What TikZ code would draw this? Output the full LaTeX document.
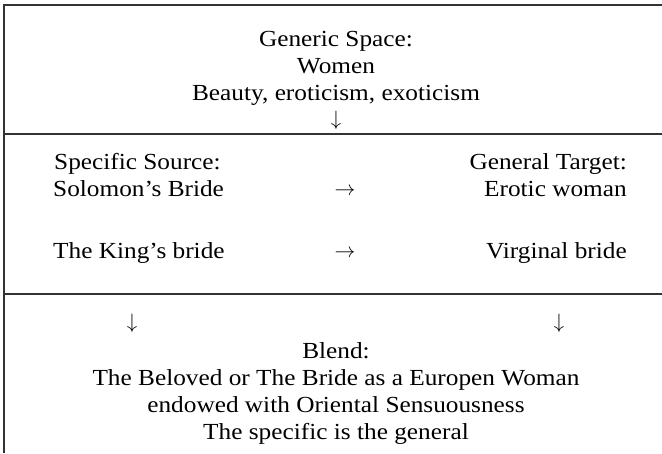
\documentclass[tikz,border=0pt]{standalone}
\usepackage{fontspec}
\setmainfont[FakeStretch=1.1]{Liberation Serif}
\begin{document}
\begin{tikzpicture}[x=1pt,y=-1pt,
  rule/.style={draw=black!80,line width=1.4pt},
  txt/.style={font=\fontsize{23}{27}\selectfont,inner sep=0pt,anchor=base},
  arr/.style={font=\fontsize{20}{24}\selectfont,inner sep=0pt,anchor=base},
  lft/.style={txt,anchor=base west},
  rgt/.style={txt,anchor=base east}]
\useasboundingbox (0,0) rectangle (662,453);
% frame lines
\draw[rule] (662,5) -- (4,5) -- (4,453);
\draw[rule] (4,134) -- (662,134);
\draw[rule] (4,294) -- (662,294);
% generic space
\node[txt] (g1) at (336,46) {Generic Space:};
\node[txt] (g2) at (336,73) {Women};
\node[txt] (g3) at (336,100) {Beauty, eroticism, exoticism};
\node[arr] (ga) at (336,125) {$\downarrow$};
% source / target
\node[lft] (s1) at (54,169) {Specific Source:};
\node[lft] (s2) at (53,196) {Solomon’s Bride};
\node[lft] (s3) at (53,258) {The King’s bride};
\node[rgt] (t1) at (627,169) {General Target:};
\node[rgt] (t2) at (627,196) {Erotic woman};
\node[rgt] (t3) at (627,258) {Virginal bride};
\node[arr] (a1) at (345,195) {$\rightarrow$};
\node[arr] (a2) at (345,257) {$\rightarrow$};
% blend
\node[arr] (d1) at (132,328) {$\downarrow$};
\node[arr] (d2) at (559,328) {$\downarrow$};
\node[txt] (b1) at (336,358) {Blend:};
\node[txt] (b2) at (336,385) {The Beloved or The Bride as a Europen Woman};
\node[txt] (b3) at (336,412) {endowed with Oriental Sensuousness};
\node[txt] (b4) at (336,439) {The specific is the general};
\end{tikzpicture}
\end{document}
